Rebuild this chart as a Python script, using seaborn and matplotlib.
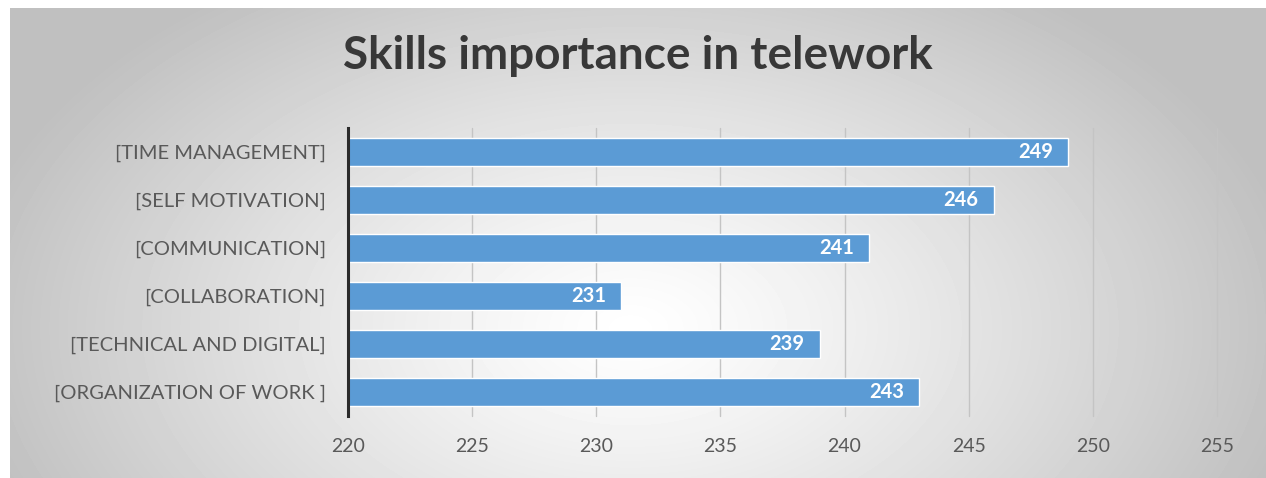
import numpy as np
import pandas as pd
import matplotlib
matplotlib.use("Agg")
import matplotlib.pyplot as plt
import seaborn as sns

skills = ["[TIME MANAGEMENT]", "[SELF MOTIVATION]", "[COMMUNICATION]",
          "[COLLABORATION]", "[TECHNICAL AND DIGITAL]", "[ORGANIZATION OF WORK ]"]
scores = [249, 246, 241, 231, 239, 243]
x_ticks = [220, 225, 230, 235, 240, 245, 250, 255]

bar_color = "#5B9BD5"

sns.set_theme(style="white")
plt.rcParams['font.family'] = ['Lato', 'DejaVu Sans']

fig = plt.figure(figsize=(12.66, 4.78), dpi=100)
fig.patch.set_facecolor("white")

# radial grey gradient panel behind the chart
bg = fig.add_axes([10/1266, 0, 1 - 10/1266, 1 - 8/478], zorder=-1)
h, w = 470, 1256
yy, xx = np.mgrid[0:h, 0:w]
cx, cy = 620, 320
r = np.sqrt(((xx - cx) / 680.0) ** 2 + ((yy - cy) / 420.0) ** 2)
shade = 1.0 - 0.25 * np.clip(r, 0, 1) ** 1.2
bg.imshow(shade, cmap="gray", vmin=0, vmax=1, aspect="auto",
          interpolation="bilinear")
bg.axis("off")

ax = fig.add_axes([348/1266, 1 - 416/478, (1217 - 348)/1266, 288/478])
ax.patch.set_alpha(0)

df = pd.DataFrame({"skill": skills, "score": scores})
sns.barplot(data=df, x="score", y="skill", color=bar_color, saturation=1,
            width=0.58, ax=ax, zorder=3)

ax.set_xlim(220, 255)
ax.set_xticks(x_ticks)
ax.set_xlabel("")
ax.set_ylabel("")
ax.grid(axis="x", color="#c4c4c4", linewidth=1, zorder=0)
for line in ax.get_xgridlines():
    line.set_clip_on(False)
for s in ["top", "right", "bottom"]:
    ax.spines[s].set_visible(False)
ax.spines["left"].set_color("#2b2b2b")
ax.spines["left"].set_linewidth(2.2)
ax.spines["left"].set_zorder(5)

ax.tick_params(axis="x", colors="#595959", labelsize=14, length=0, pad=16)
ax.tick_params(axis="y", colors="#595959", labelsize=14.5, length=0, pad=16)

for i, v in enumerate(scores):
    ax.annotate(str(v), xy=(v, i), xytext=(-11, 0), textcoords="offset points",
                ha="right", va="center", color="white", fontsize=14.5,
                fontweight="bold", zorder=6)

fig.text(638/1266, 1 - 56/478, "Skills importance in telework", ha="center",
         va="center", fontsize=33, fontweight="bold", color="#383838")

fig.savefig("out.png", dpi=100)
